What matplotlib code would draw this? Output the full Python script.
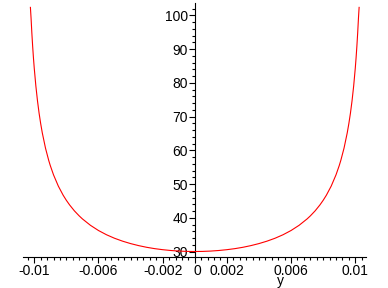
import matplotlib
matplotlib.use("Agg")
import matplotlib.pyplot as plt
from matplotlib.ticker import MultipleLocator, FixedLocator
from matplotlib.transforms import offset_copy

plt.rcParams['font.family'] = ['Liberation Sans', 'DejaVu Sans']

# values (right half, curve is symmetric about y = 0)
y_half = [0.0, 0.0005, 0.001, 0.0015, 0.002, 0.0025, 0.003, 0.0035, 0.004,
          0.0045, 0.005, 0.0055, 0.006, 0.0065, 0.007, 0.0072, 0.0075,
          0.0078, 0.008, 0.0082, 0.0085, 0.0088, 0.009, 0.0091, 0.0093,
          0.0095, 0.0096, 0.0097, 0.0098, 0.0099, 0.0100, 0.01005, 0.0101,
          0.01015, 0.0102, 0.01024]
f_half = [30.0, 30.03, 30.13, 30.3, 30.54, 30.85, 31.25, 31.75, 32.35,
          33.07, 33.93, 34.97, 36.23, 37.77, 39.67, 40.56, 42.06,
          43.83, 45.18, 46.7, 49.39, 52.74, 55.47, 57.03, 60.66,
          65.2, 67.93, 71.06, 74.73, 79.08, 84.33, 87.4, 90.87,
          94.79, 99.3, 102.4]

y_vals = [-v for v in y_half[:0:-1]] + y_half
f_vals = f_half[:0:-1] + f_half

x_ticks = [-0.01, -0.006, -0.002, 0.0, 0.002, 0.006, 0.01]
x_labels = ["-0.01", "-0.006", "-0.002", "0", "0.002", "0.006", "0.01"]
f_ticks = [30, 40, 50, 60, 70, 80, 90, 100]

W, H = 388, 288
fig = plt.figure(figsize=(W / 100, H / 100), dpi=100)
left, right, bottom, top = 22.7, 365.7, 257, 3
ax = fig.add_axes([left / W, 1 - bottom / H, (right - left) / W, (bottom - top) / H])

ax.plot(y_vals, f_vals, color='#ff0000', lw=0.8, zorder=3, clip_on=False)

ax.set_xlim(-0.01072, 0.01065)
ax.set_ylim(28.37, 103.7)

for s in ['top', 'right']:
    ax.spines[s].set_visible(False)
ax.spines['left'].set_position(('data', 0))
ax.spines['left'].set_linewidth(0.8)
ax.spines['bottom'].set_linewidth(0.8)

ax.xaxis.set_major_locator(FixedLocator(x_ticks))
ax.xaxis.set_minor_locator(MultipleLocator(0.0004))
ax.set_xticklabels(x_labels)
ax.yaxis.set_major_locator(FixedLocator(f_ticks))
ax.yaxis.set_minor_locator(MultipleLocator(2))

ax.tick_params(axis='both', which='major', direction='out', length=4.5,
               width=0.8, labelsize=10, pad=0.5)
ax.tick_params(axis='both', which='minor', direction='out', length=2.5,
               width=0.8)

# nudge the "0" label off the vertical axis, as in the original
for lab in ax.get_xticklabels():
    if lab.get_text() == "0":
        lab.set_transform(offset_copy(lab.get_transform(), fig=fig, x=3, y=0, units='dots'))

fig.text(280 / W, 1 - 284.5 / H, 'y', ha='center', va='baseline', fontsize=10)

fig.savefig('out.png', dpi=100)
